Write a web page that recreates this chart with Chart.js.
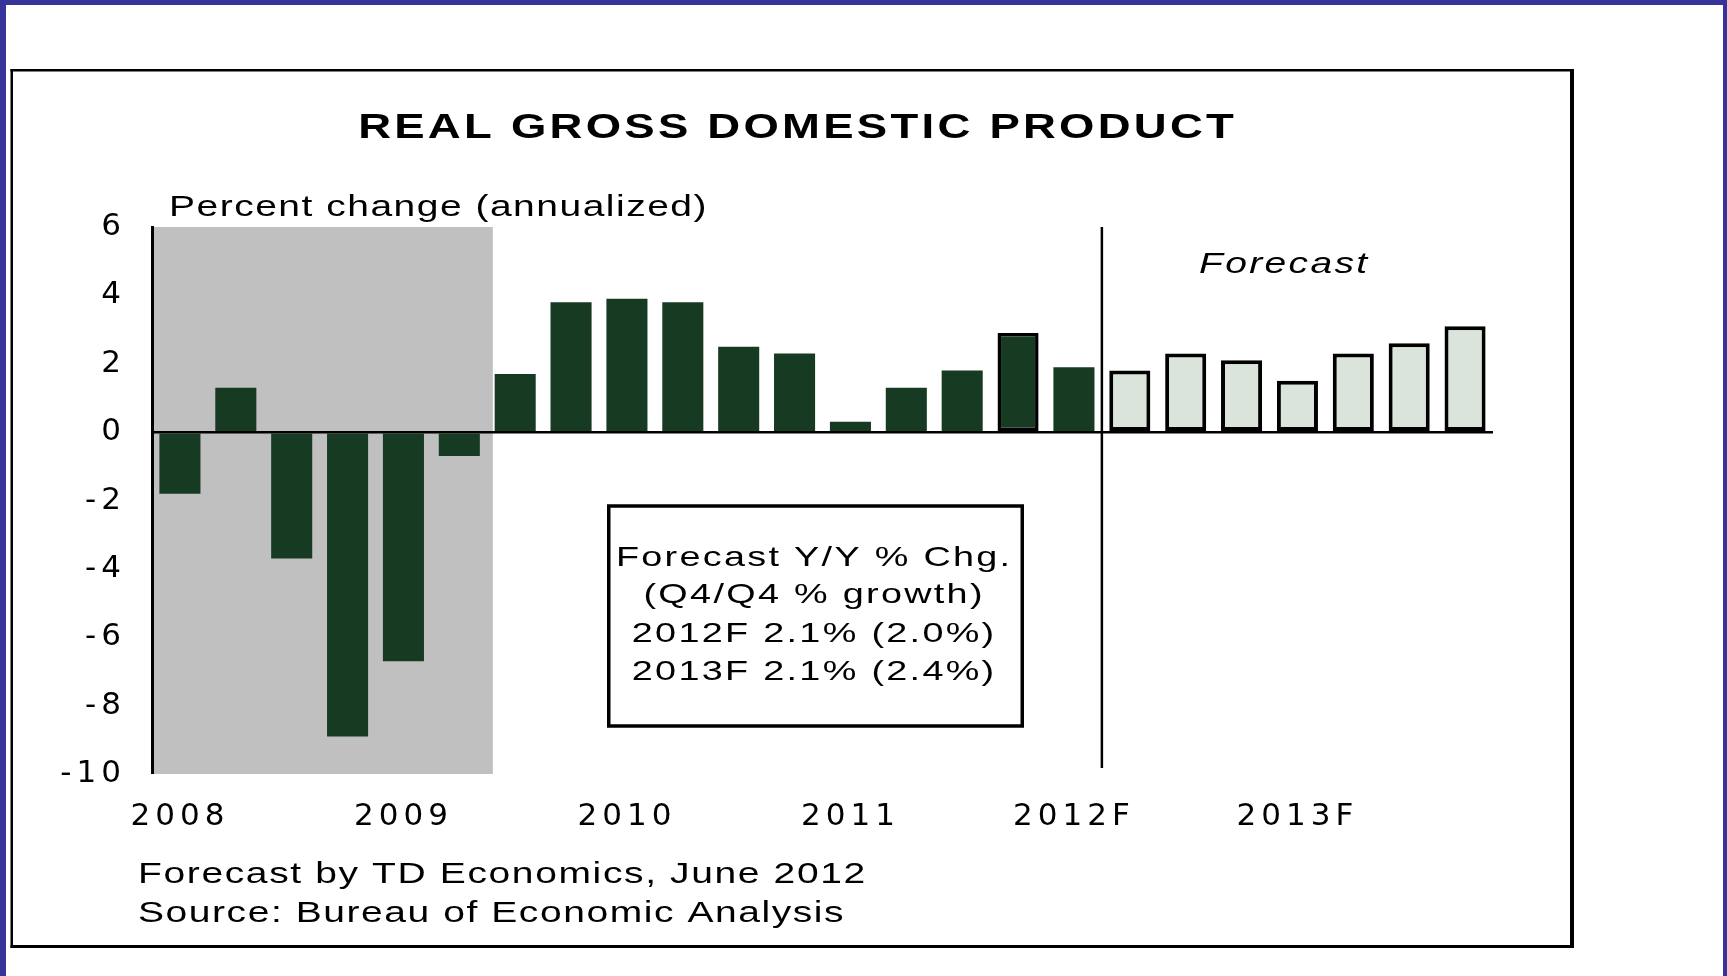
<!DOCTYPE html>
<html lang="en">
<head>
<meta charset="UTF-8">
<title>Real Gross Domestic Product</title>
<script src="https://cdn.jsdelivr.net/npm/chart.js@4.4.1/dist/chart.umd.min.js"></script>
<style>
  html, body { margin: 0; padding: 0; background: #fff; }
  canvas { display: block; }
</style>
</head>
<body>
<canvas id="gdpChart" width="1727" height="976"></canvas>
<script>
// Real GDP, quarterly percent change (annualized)
const years = ['2008', '2009', '2010', '2011', '2012F', '2013F'];
const quarters = ['Q1', 'Q2', 'Q3', 'Q4'];
const actualGrowth = [-1.8, 1.3, -3.7, -8.9, -6.7, -0.7, 1.7, 3.8, 3.9, 3.8, 2.5, 2.3, 0.3, 1.3, 1.8, 2.9, 1.9];
const forecastGrowth = [1.8, 2.3, 2.1, 1.5, 2.3, 2.6, 3.1];
const highlightedQuarter = '2011 Q4';
const recessionEnd = '2009 Q2';

const chartTitle = 'REAL GROSS DOMESTIC PRODUCT';
const yAxisTitle = 'Percent change (annualized)';
const forecastLabel = 'Forecast';
const forecastNote = ['Forecast Y/Y % Chg.', '(Q4/Q4 % growth)', '2012F 2.1% (2.0%)', '2013F 2.1% (2.4%)'];
const footNotes = ['Forecast by TD Economics, June 2012', 'Source: Bureau of Economic Analysis'];

// One category per quarter, e.g. "2010 Q3"
const labels = [];
years.forEach(y => quarters.forEach(q => labels.push(y + ' ' + q)));

const actualData = actualGrowth.concat(forecastGrowth.map(() => null));
const forecastData = actualGrowth.map(() => null).concat(forecastGrowth);

const TEXT_FONT = '"Liberation Sans", Arial, sans-serif';

// Wide lettering: glyphs stretched horizontally by sx plus a little tracking.
// letterSpacing also pads the last glyph, so centred text is nudged back.
function drawText(ctx, text, x, y, font, sx, spacing, align) {
  ctx.save();
  ctx.translate(x, y);
  ctx.scale(sx, 1);
  ctx.font = font;
  ctx.letterSpacing = spacing + 'px';
  ctx.fillStyle = '#000';
  ctx.textBaseline = 'alphabetic';
  ctx.textAlign = align || 'left';
  ctx.fillText(text, align === 'center' ? spacing / 2 : 0, 0);
  ctx.restore();
}

const decorations = {
  id: 'decorations',
  beforeDraw(chart) {
    const { ctx, chartArea, scales: { x } } = chart;
    ctx.save();
    // page frame
    ctx.fillStyle = '#36349a';
    ctx.fillRect(0, 0, 1727, 5);
    ctx.fillRect(0, 0, 6, 976);
    ctx.fillRect(1723, 0, 4, 976);
    // chart panel, heavier on the right and bottom
    ctx.fillStyle = '#000';
    ctx.fillRect(10.5, 69, 1563, 2.5);
    ctx.fillRect(10.5, 69, 2.5, 879);
    ctx.fillRect(1570, 69, 4, 879);
    ctx.fillRect(10.5, 945, 1563.5, 3);
    // recession shading up to the end of 2009 Q2
    const x1 = x.getPixelForValue(labels.indexOf(recessionEnd) + 0.6);
    ctx.fillStyle = '#c0c0c0';
    ctx.fillRect(chartArea.left, chartArea.top, x1 - chartArea.left, chartArea.bottom - chartArea.top);
    ctx.restore();
    // tracking used by the axis tick labels
    ctx.letterSpacing = '5px';
  },
  afterDatasetsDraw(chart) {
    const { ctx, chartArea, scales: { x } } = chart;
    // divider between history and forecast
    const xf = x.getPixelForValue(actualGrowth.length - 0.5);
    ctx.save();
    ctx.strokeStyle = '#000';
    ctx.lineWidth = 2.5;
    ctx.beginPath();
    ctx.moveTo(xf, chartArea.top);
    ctx.lineTo(xf, chartArea.bottom - 6);
    ctx.stroke();
    ctx.restore();
  },
  afterDraw(chart) {
    const ctx = chart.ctx;
    drawText(ctx, chartTitle, 796, 138, 'bold 35px ' + TEXT_FONT, 1.3, 2.5, 'center');
    drawText(ctx, yAxisTitle, 169, 216, '30px ' + TEXT_FONT, 1.3, 1.15);
    drawText(ctx, forecastLabel, 1199, 273, 'italic 30px ' + TEXT_FONT, 1.3, 1.8);

    // forecast summary box
    ctx.save();
    ctx.strokeStyle = '#000';
    ctx.lineWidth = 3.5;
    ctx.strokeRect(608.75, 506, 413.5, 220);
    ctx.restore();
    const noteY = [566, 603, 642, 680];
    forecastNote.forEach((line, i) => drawText(ctx, line, 813, noteY[i], '28px ' + TEXT_FONT, 1.35, 1.7, 'center'));

    drawText(ctx, footNotes[0], 138, 883, '30px ' + TEXT_FONT, 1.3, 1.25);
    drawText(ctx, footNotes[1], 138, 922, '30px ' + TEXT_FONT, 1.3, 1.2);
  }
};

const ctx = document.getElementById('gdpChart').getContext('2d');
new Chart(ctx, {
  type: 'bar',
  data: {
    labels: labels,
    datasets: [{
      label: 'Actual',
      data: actualData,
      backgroundColor: '#173a23',
      borderColor: '#000',
      borderWidth: c => labels[c.dataIndex] === highlightedQuarter ? 3.5 : 0,
      borderSkipped: false,
      barPercentage: 0.735,
      categoryPercentage: 1
    }, {
      label: 'Forecast',
      data: forecastData,
      backgroundColor: '#dbe4db',
      borderColor: '#000',
      borderWidth: 4,
      borderSkipped: false,
      barPercentage: 0.735,
      categoryPercentage: 1
    }]
  },
  options: {
    responsive: false,
    animation: false,
    events: [],
    layout: { padding: { left: 0, top: 227, right: 234, bottom: 142 } },
    plugins: {
      legend: { display: false },
      tooltip: { enabled: false },
      title: { display: false }
    },
    scales: {
      x: {
        stacked: true,
        grid: { display: false },
        border: { display: false },
        ticks: {
          autoSkip: false,
          maxRotation: 0,
          padding: 16,
          color: '#000',
          font: { family: 'DejaVu Sans', size: 31 },
          callback: (value, index) => index % 4 === 0 ? years[index / 4] : ''
        },
        afterFit: scale => { scale.height = 60; }
      },
      y: {
        min: -10,
        max: 6,
        z: 1,
        border: { display: true, color: '#000', width: 3 },
        grid: {
          drawTicks: false,
          color: c => c.tick.value === 0 ? '#000' : 'rgba(0,0,0,0)',
          lineWidth: c => c.tick.value === 0 ? 2.5 : 0
        },
        ticks: {
          stepSize: 2,
          padding: 26,
          color: '#000',
          font: { family: 'DejaVu Sans', size: 31 }
        },
        afterFit: scale => { scale.width = 152; }
      }
    }
  },
  plugins: [decorations]
});
</script>
</body>
</html>
